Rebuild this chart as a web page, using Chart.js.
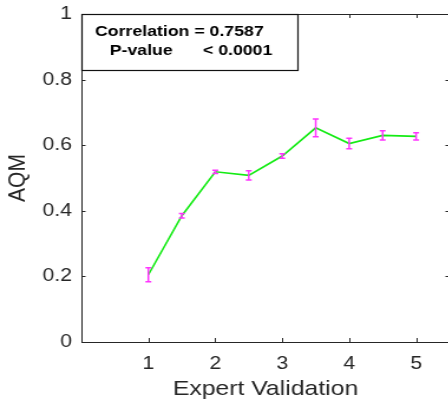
<!DOCTYPE html>
<html>
<head>
<meta charset="utf-8">
<script src="https://cdn.jsdelivr.net/npm/chart.js@4/dist/chart.umd.min.js"></script>
<style>
    html, body { margin: 0; padding: 0; background: #fff; overflow: hidden; }
    /* the reference figure is stretched sideways, so the whole canvas is too */
    #wrap { width: 381px; height: 400px; transform: scaleX(1.18); transform-origin: 0 0; }
</style>
</head>
<body>
<div id="wrap"><canvas id="aqmChart" width="381" height="400"></canvas></div>
<script>
/* ===============================
   DATA
================================ */
const xValues = [1, 1.5, 2, 2.5, 3, 3.5, 4, 4.5, 5];
const aqmMean = [0.205, 0.385, 0.519, 0.508, 0.567, 0.653, 0.605, 0.630, 0.627];
const aqmErr  = [0.021, 0.007, 0.005, 0.014, 0.007, 0.027, 0.016, 0.014, 0.011];

const xTicks = [1, 2, 3, 4, 5];
const yTicks = [0, 0.2, 0.4, 0.6, 0.8, 1];

const xTitle = "Expert Validation";
const yTitle = "AQM";
const corrLabel = "Correlation = 0.7587";
const pLabel = "P-value";
const pValue = "< 0.0001";

/* ===============================
   STYLE
================================ */
const FONT = "'Liberation Sans', Arial, sans-serif";
const AXIS_COLOR = "#262626";
const LINE_COLOR = "rgb(20, 235, 20)";
const BAR_COLOR = "#ff33ff";

/* ===============================
   MATLAB-LIKE AXES + ERROR BARS
================================ */
const matlabAxes = {
    id: "matlabAxes",
    afterDatasetsDraw(chart) {
        const { ctx, scales: { x, y } } = chart;
        ctx.save();
        ctx.strokeStyle = BAR_COLOR;
        ctx.lineWidth = 1.5;
        xValues.forEach((xv, i) => {
            const px = x.getPixelForValue(xv);
            const top = y.getPixelForValue(aqmMean[i] + aqmErr[i]);
            const bot = y.getPixelForValue(aqmMean[i] - aqmErr[i]);
            ctx.beginPath();
            ctx.moveTo(px, top); ctx.lineTo(px, bot);
            ctx.moveTo(px - 2.5, top); ctx.lineTo(px + 2.5, top);
            ctx.moveTo(px - 2.5, bot); ctx.lineTo(px + 2.5, bot);
            ctx.stroke();
        });
        ctx.restore();
    },
    afterDraw(chart) {
        const { ctx, chartArea: a, scales: { x, y } } = chart;
        ctx.save();
        ctx.strokeStyle = AXIS_COLOR;
        ctx.lineWidth = 1;

        // box
        ctx.strokeRect(a.left + 0.5, a.top + 0.5, a.right - a.left - 1, a.bottom - a.top);

        // inward ticks
        ctx.beginPath();
        x.ticks.forEach(t => {
            const px = Math.round(x.getPixelForValue(t.value)) + 0.5;
            ctx.moveTo(px, a.bottom); ctx.lineTo(px, a.bottom - 4);
            ctx.moveTo(px, a.top); ctx.lineTo(px, a.top + 4);
        });
        y.ticks.forEach(t => {
            const py = Math.round(y.getPixelForValue(t.value)) + 0.5;
            ctx.moveTo(a.left, py); ctx.lineTo(a.left + 3.5, py);
            ctx.moveTo(a.right, py); ctx.lineTo(a.right - 3.5, py);
        });
        ctx.stroke();

        // annotation box
        const bx = a.left + 0.5, by = a.top + 0.5;
        ctx.fillStyle = "#fff";
        ctx.fillRect(bx, by, 183, 56);
        ctx.strokeStyle = "#111";
        ctx.lineWidth = 1.2;
        ctx.strokeRect(bx, by, 183, 56);

        ctx.fillStyle = "#000";
        ctx.font = "bold 15px " + FONT;
        ctx.textBaseline = "alphabetic";
        ctx.fillText(corrLabel, a.left + 11.5, a.top + 22);
        ctx.fillText(pLabel, a.left + 24, a.top + 41);
        ctx.fillText(pValue, a.left + 103, a.top + 41);
        ctx.restore();
    }
};

/* ===============================
   CHART
================================ */
new Chart(document.getElementById("aqmChart"), {
    type: "line",
    data: {
        datasets: [{
            data: xValues.map((xv, i) => ({ x: xv, y: aqmMean[i] })),
            borderColor: LINE_COLOR,
            borderWidth: 1.6,
            pointRadius: 0,
            tension: 0
        }]
    },
    options: {
        responsive: false,
        animation: false,
        layout: { padding: { top: 14, left: 0, right: 0, bottom: 0 } },
        plugins: {
            legend: { display: false },
            tooltip: { enabled: false }
        },
        scales: {
            x: {
                type: "linear",
                min: 0,
                max: 5.5,
                afterBuildTicks: s => { s.ticks = xTicks.map(v => ({ value: v })); },
                afterFit: s => { s.height = 58; s.paddingLeft = 0; s.paddingRight = 0; },
                grid: { display: false, drawTicks: false },
                border: { display: false },
                ticks: {
                    padding: 11,
                    color: AXIS_COLOR,
                    font: { family: FONT, size: 18 },
                    callback: v => String(v)
                },
                title: {
                    display: true,
                    text: xTitle,
                    color: AXIS_COLOR,
                    font: { family: FONT, size: 21, lineHeight: 1 },
                    padding: { top: 0, bottom: 0 }
                }
            },
            y: {
                min: 0,
                max: 1,
                afterBuildTicks: s => { s.ticks = yTicks.map(v => ({ value: v })); },
                afterFit: s => { s.width = 69; s.paddingTop = 0; s.paddingBottom = 0; },
                grid: { display: false, drawTicks: false },
                border: { display: false },
                ticks: {
                    padding: 8,
                    color: AXIS_COLOR,
                    font: { family: FONT, size: 18, lineHeight: 1 },
                    callback: v => String(v)
                },
                title: {
                    display: true,
                    text: yTitle,
                    color: AXIS_COLOR,
                    font: { family: FONT, size: 21, lineHeight: 1 },
                    padding: { top: 5, bottom: 0 }
                }
            }
        }
    },
    plugins: [matlabAxes]
});
</script>
</body>
</html>
